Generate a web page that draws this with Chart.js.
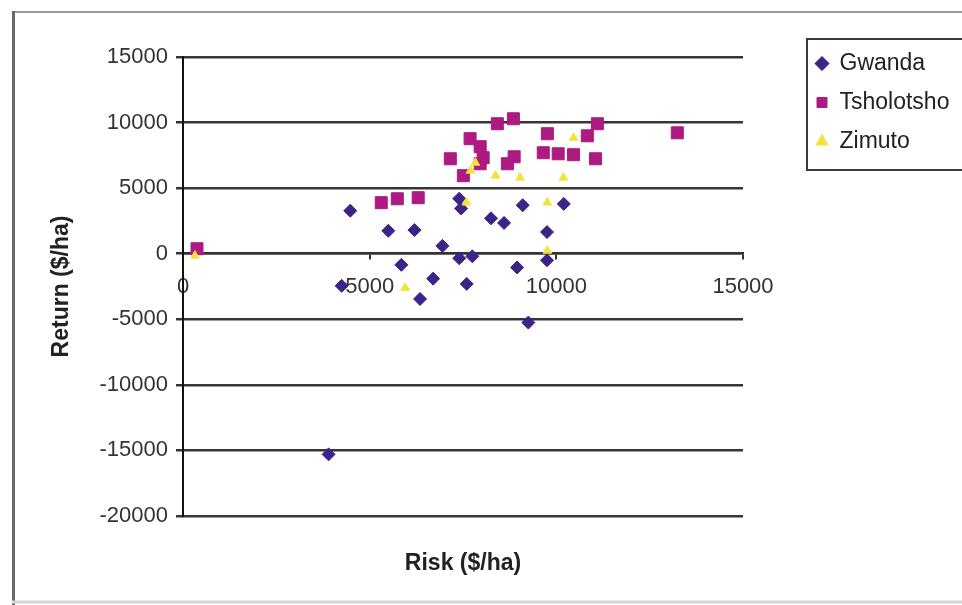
<!DOCTYPE html>
<html><head><meta charset="utf-8">
<script src="https://cdn.jsdelivr.net/npm/chart.js@4.4.1/dist/chart.umd.min.js"></script>
<style>html,body{margin:0;padding:0;background:#fff;}</style>
</head><body>
<canvas id="c" width="962" height="605"></canvas>
<script>
const seriesNames = ['Gwanda', 'Tsholotsho', 'Zimuto'];

const gwandaRisk   = [4480, 5500, 4250, 5850, 6350, 6200, 6700, 6950, 7400, 7750, 7600, 7400, 7450, 8250, 8600, 9100, 10200, 9750, 9750, 8950, 9250, 3900];
const gwandaReturn = [3280, 1750, -2450, -850, -3450, 1800, -1900, 600, -350, -200, -2300, 4200, 3450, 2700, 2350, 3700, 3800, 1650, -500, -1050, -5250, -15300];

const tsholotshoRisk   = [375, 5310, 5740, 6300, 7160, 7510, 7690, 7960, 8040, 8420, 8850, 8690, 8870, 9760, 9650, 10050, 10460, 10830, 11100, 11050, 13240, 7960];
const tsholotshoReturn = [380, 3890, 4190, 4270, 7240, 5950, 8770, 8160, 7320, 9910, 10290, 6860, 7390, 9150, 7700, 7620, 7550, 8990, 9910, 7240, 9220, 6860];

const zimutoRisk   = [320, 5950, 9760, 9760, 7590, 7700, 7830, 8370, 9030, 10190, 10460];
const zimutoReturn = [-150, -2600, 230, 3900, 3900, 6330, 6940, 5950, 5800, 5800, 8840];

const xTicks = [0, 5000, 10000, 15000];
const yTicks = [-20000, -15000, -10000, -5000, 0, 5000, 10000, 15000];

const xTitle = 'Risk ($/ha)';
const yTitle = 'Return ($/ha)';

const FONT = "'Liberation Sans', Arial, sans-serif";

function pts(xs, ys) { return xs.map((x, i) => ({ x: x, y: ys[i] })); }

const framePlugin = {
  id: 'frame',
  beforeDraw(chart) {
    const ctx = chart.ctx;
    ctx.save();
    ctx.fillStyle = '#ffffff';
    ctx.fillRect(0, 0, chart.width, chart.height);
    ctx.strokeStyle = '#9a9a9a';
    ctx.lineWidth = 2;
    ctx.beginPath();
    ctx.moveTo(12, 12); ctx.lineTo(chart.width, 12);
    ctx.stroke();
    ctx.strokeStyle = '#6a6a6a';
    ctx.lineWidth = 3;
    ctx.beginPath();
    ctx.moveTo(13.5, 11); ctx.lineTo(13.5, chart.height);
    ctx.stroke();
    ctx.strokeStyle = '#d4d4d4';
    ctx.lineWidth = 3;
    ctx.beginPath();
    ctx.moveTo(12, 602); ctx.lineTo(chart.width, 602);
    ctx.stroke();
    ctx.restore();
  },
  afterLayout(chart) {
    const lg = chart.legend;
    if (!lg) return;
    lg.left = 800; lg.top = 36; lg.right = 962; lg.bottom = 230;
    lg.width = lg.right - lg.left; lg.height = lg.bottom - lg.top;
  },
  afterDraw(chart) {
    const ctx = chart.ctx;
    ctx.save();
    ctx.strokeStyle = '#3a3a3a';
    ctx.lineWidth = 2;
    ctx.strokeRect(807, 39, 200, 131);
    ctx.restore();
  }
};

new Chart(document.getElementById('c'), {
  type: 'scatter',
  data: {
    datasets: [
      { label: seriesNames[0], data: pts(gwandaRisk, gwandaReturn), pointStyle: 'rectRot', pointRadius: 6.5,
        backgroundColor: '#3b2388', borderColor: '#3b2388', borderWidth: 1, order: 3 },
      { label: seriesNames[1], data: pts(tsholotshoRisk, tsholotshoReturn), pointStyle: 'rect', pointRadius: 8.5,
        backgroundColor: '#ad1a80', borderColor: '#ad1a80', borderWidth: 1, order: 2 },
      { label: seriesNames[2], data: pts(zimutoRisk, zimutoReturn), pointStyle: 'triangle', pointRadius: 5,
        backgroundColor: '#f2e43c', borderColor: '#f2e43c', borderWidth: 1, order: 1 }
    ]
  },
  options: {
    responsive: false,
    animation: false,
    layout: { padding: { left: 0, top: 57, right: 219, bottom: 0 } },
    plugins: {
      tooltip: { enabled: false },
      legend: {
        position: 'chartArea',
        align: 'start',
        labels: {
          usePointStyle: true, boxHeight: 10, boxWidth: 12, padding: 16,
          color: '#222', font: { family: FONT, size: 23 },
          sort: (a, b) => a.datasetIndex - b.datasetIndex
        }
      }
    },
    scales: {
      x: {
        type: 'linear', position: { y: 0 }, min: xTicks[0], max: xTicks[xTicks.length - 1],
        afterBuildTicks: s => { s.ticks = xTicks.map(v => ({ value: v })); },
        ticks: { padding: 15, color: '#333', font: { family: FONT, size: 22 }, maxRotation: 0, callback: v => String(v) },
        grid: { drawOnChartArea: false, drawTicks: true, tickLength: 5, color: '#333', lineWidth: 2 },
        border: { display: true, color: '#333', width: 2.5 }
      },
      x2: {
        type: 'linear', position: 'bottom', min: xTicks[0], max: xTicks[xTicks.length - 1],
        ticks: { display: false }, grid: { display: false }, border: { display: false },
        title: { display: true, text: xTitle, color: '#222', font: { family: FONT, size: 23, weight: 'bold' }, padding: { top: 0, bottom: 28 } },
        afterFit: s => { s.height = 89; }
      },
      y: {
        type: 'linear', position: 'left', min: yTicks[0], max: yTicks[yTicks.length - 1],
        afterBuildTicks: s => { s.ticks = yTicks.map(v => ({ value: v })); },
        ticks: { padding: 8, color: '#333', font: { family: FONT, size: 22 }, callback: v => String(v) },
        grid: { color: '#363636', lineWidth: 2.5, drawTicks: true, tickLength: 7 },
        border: { display: true, color: '#111', width: 2 },
        title: { display: true, text: yTitle, color: '#222', font: { family: FONT, size: 23, weight: 'bold' }, padding: { top: 48, bottom: 0 } },
        afterFit: s => { s.width = 183; }
      }
    }
  },
  plugins: [framePlugin]
});
</script>
</body></html>
